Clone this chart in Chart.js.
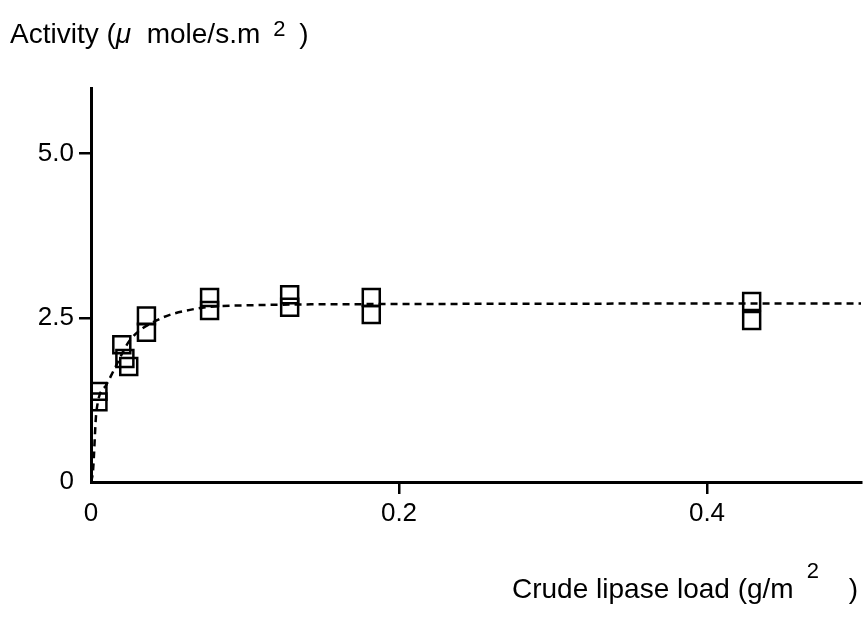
<!DOCTYPE html>
<html>
<head>
<meta charset="utf-8">
<script src="https://cdn.jsdelivr.net/npm/chart.js@4/dist/chart.umd.min.js"></script>
<style>
  html, body { margin: 0; padding: 0; background: #fff; }
  #wrap { width: 863px; height: 621px; }
</style>
</head>
<body>
<div id="wrap"><canvas id="lipaseChart" width="863" height="621"></canvas></div>
<script>
// measured points (lipase load g/m2, activity umole/s.m2)
const loadX = [0.0045, 0.0045, 0.020, 0.022, 0.0245, 0.036, 0.036, 0.077, 0.077, 0.129, 0.129, 0.182, 0.182, 0.429, 0.429];
const activityY = [1.38, 1.22, 2.09, 1.88, 1.76, 2.53, 2.28, 2.81, 2.61, 2.85, 2.66, 2.81, 2.55, 2.75, 2.46];

// dashed fitted curve
const fitX = [0, 0.0013, 0.0035, 0.010, 0.0154, 0.025, 0.0425, 0.0685, 0.10, 0.20, 0.50];
const fitY = [0, 0.17, 1.07, 1.48, 1.73, 2.15, 2.46, 2.64, 2.69, 2.71, 2.72];

const xTicks = [0, 0.2, 0.4];
const xTickLabels = ['0', '0.2', '0.4'];
const yTicks = [0, 2.5, 5.0];
const yTickLabels = ['0', '2.5', '5.0'];

const FONT = "'Liberation Sans', Arial, Helvetica, sans-serif";

document.addEventListener('DOMContentLoaded', function () {
    const ctx = document.getElementById('lipaseChart').getContext('2d');

    // axis titles with superscripts, drawn as text
    const axisTitles = {
        id: 'axisTitles',
        afterDraw(chart) {
            const c = chart.ctx;
            c.save();
            c.fillStyle = '#000';
            c.textBaseline = 'alphabetic';
            const yb = 43;
            let x = 10;
            c.font = '28px ' + FONT;
            c.fillText('Activity (', x, yb);
            x += c.measureText('Activity (').width;
            c.font = 'italic 28px ' + FONT;
            c.fillText('\u03bc', x, yb);
            x += c.measureText('\u03bc').width;
            c.font = '28px ' + FONT;
            c.fillText('  mole/s.m', x, yb);
            x += c.measureText('  mole/s.m').width;
            c.font = '22px ' + FONT;
            c.fillText('2', x + 13, yb - 7);
            c.font = '28px ' + FONT;
            c.fillText(')', x + 39, yb);

            const xb = 598;
            c.fillText('Crude lipase load (g/m', 512, xb);
            const end = 512 + c.measureText('Crude lipase load (g/m').width;
            c.font = '22px ' + FONT;
            c.fillText('2', end + 13, xb - 20);
            c.font = '28px ' + FONT;
            c.fillText(')', end + 55, xb);
            c.restore();
        }
    };

    const tickColor = (c) => (c.tick && c.tick.value === 0) ? 'rgba(0,0,0,0)' : '#000';

    new Chart(ctx, {
        type: 'scatter',
        data: {
            datasets: [{
                label: 'fit',
                type: 'line',
                data: fitX.map((v, i) => ({x: v, y: fitY[i]})),
                borderColor: '#000',
                borderWidth: 2.5,
                borderDash: [7, 5],
                pointRadius: 0,
                fill: false,
                cubicInterpolationMode: 'monotone'
            }, {
                label: 'activity',
                data: loadX.map((v, i) => ({x: v, y: activityY[i]})),
                pointStyle: 'rect',
                pointRadius: 12,
                pointBorderWidth: 2.5,
                pointBorderColor: '#000',
                pointBackgroundColor: 'rgba(0,0,0,0)'
            }]
        },
        options: {
            responsive: false,
            animation: false,
            layout: {autoPadding: false, padding: {top: 88, right: 2, left: 0, bottom: 0}},
            plugins: {legend: {display: false}, tooltip: {enabled: false}},
            scales: {
                x: {
                    type: 'linear',
                    min: 0,
                    max: 0.5,
                    afterBuildTicks(s) { s.ticks = xTicks.map(v => ({value: v})); },
                    afterFit(s) {
                        s.height = 621 - 482;
                        s.paddingLeft = 0;
                        s.paddingRight = 0;
                    },
                    ticks: {
                        callback: (v) => xTickLabels[xTicks.indexOf(v)],
                        color: '#000',
                        font: {family: FONT, size: 26},
                        maxRotation: 0,
                        padding: 4
                    },
                    grid: {drawOnChartArea: false, drawTicks: true, tickLength: 12, color: tickColor, lineWidth: 2.5},
                    border: {color: '#000', width: 3}
                },
                y: {
                    min: 0,
                    max: 6,
                    afterBuildTicks(s) { s.ticks = yTicks.map(v => ({value: v})); },
                    afterFit(s) {
                        s.width = 91;
                        s.paddingTop = 0;
                        s.paddingBottom = 0;
                    },
                    ticks: {
                        callback: (v) => yTickLabels[yTicks.indexOf(v)],
                        color: '#000',
                        font: {family: FONT, size: 26},
                        padding: 5
                    },
                    grid: {drawOnChartArea: false, drawTicks: true, tickLength: 12, color: tickColor, lineWidth: 2.5},
                    border: {color: '#000', width: 3}
                }
            }
        },
        plugins: [axisTitles]
    });
});
</script>
</body>
</html>
